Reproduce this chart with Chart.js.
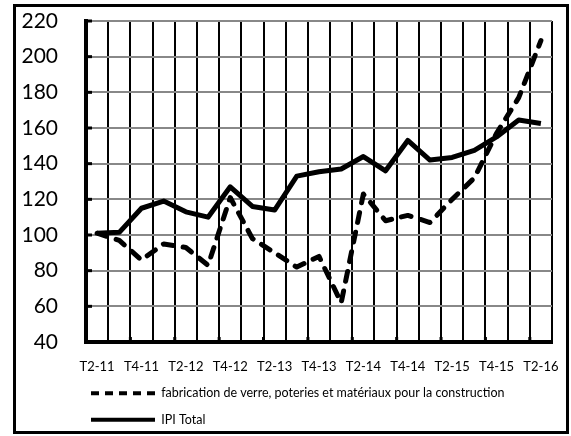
<!DOCTYPE html>
<html>
<head>
<meta charset="utf-8">
<script src="https://cdn.jsdelivr.net/npm/chart.js@4"></script>
<style>
  html, body { margin: 0; padding: 0; background: #fff; }
  #frame {
    position: absolute; left: 13px; top: 4px; width: 556px; height: 430px;
    box-sizing: border-box; border: 3px solid #000;
  }
  #wrap { position: absolute; left: 0; top: 0; width: 571px; height: 436px; }
</style>
</head>
<body>
<div id="frame"></div>
<div id="wrap"><canvas id="myChart"></canvas></div>
<script>
// quarters T2-2011 .. T2-2016
var quarters = ['T2-11', 'T3-11', 'T4-11', 'T1-12', 'T2-12', 'T3-12', 'T4-12',
                'T1-13', 'T2-13', 'T3-13', 'T4-13', 'T1-14', 'T2-14', 'T3-14',
                'T4-14', 'T1-15', 'T2-15', 'T3-15', 'T4-15', 'T1-16', 'T2-16'];

var verreValues = [101, 97, 86, 95, 93, 83, 121, 98, 90, 82, 88, 62, 123,
                   108, 111, 107, 120, 132, 157, 177, 209];

var ipiValues = [101, 101.5, 115, 119, 113, 110, 127, 116, 114, 133, 135.5, 137, 144,
                 136, 153, 142, 143.5, 147.5, 155, 164.5, 162.5];

var verreLabel = 'fabrication de verre, poteries et matériaux pour la construction';
var ipiLabel   = 'IPI Total';

var fontFamily = 'Lato, "Liberation Sans", sans-serif';
var ctx = document.getElementById('myChart');

// little black tick marks on the inside of both axes
var innerTicks = {
    id: 'innerTicks',
    afterDatasetsDraw: function(chart) {
        var x = chart.scales.x;
        var y = chart.scales.y;
        var c = chart.ctx;
        c.save();
        c.strokeStyle = '#000';
        c.lineWidth = 3;
        y.ticks.forEach(function(t) {
            var py = y.getPixelForValue(t.value);
            c.beginPath();
            c.moveTo(y.right, py);
            c.lineTo(y.right + 6, py);
            c.stroke();
        });
        for (var i = 2; i < quarters.length; i += 2) {
            var px = (x.getPixelForValue(i - 1) + x.getPixelForValue(i)) / 2;
            c.beginPath();
            c.moveTo(px, x.top);
            c.lineTo(px, x.top - 5);
            c.stroke();
        }
        c.restore();
    }
};

// legend sits under the plot, not at the canvas edge
var legendShift = {
    id: 'legendShift',
    afterLayout: function(chart) {
        chart.legend.left += 77;
    }
};

var myChart = new Chart(ctx, {
    type: 'line',
    data: {
        labels: quarters,
        datasets: [{
            label: verreLabel,
            data: verreValues,
            borderColor: '#000',
            backgroundColor: '#000',
            borderWidth: 5,
            borderDash: [10, 10],
            borderCapStyle: 'round',
            borderJoinStyle: 'round',
            pointRadius: 0,
            tension: 0
        }, {
            label: ipiLabel,
            data: ipiValues,
            borderColor: '#000',
            backgroundColor: '#000',
            borderWidth: 5,
            borderJoinStyle: 'round',
            pointRadius: 0,
            tension: 0
        }]
    },
    options: {
        responsive: true,
        maintainAspectRatio: false,
        animation: false,
        layout: { padding: { left: 0, right: 19, top: 21, bottom: 0 } },
        plugins: {
            tooltip: { enabled: false },
            legend: {
                position: 'bottom',
                align: 'start',
                labels: {
                    usePointStyle: true,
                    pointStyle: 'line',
                    pointStyleWidth: 64,
                    boxHeight: 12,
                    padding: 14,
                    color: '#000',
                    font: { family: fontFamily, size: 12.5 },
                    generateLabels: function(chart) {
                        var items = Chart.defaults.plugins.legend.labels.generateLabels(chart);
                        items.forEach(function(item) {
                            var ds = chart.data.datasets[item.datasetIndex];
                            item.lineDash = ds.borderDash ? [8, 6] : [];
                            item.lineWidth = 4;
                            item.strokeStyle = '#000';
                            item.lineCap = 'butt';
                        });
                        return items;
                    }
                }
            }
        },
        scales: {
            x: {
                offset: true,
                grid: { offset: true, color: '#000', lineWidth: 2, tickLength: 15, tickColor: 'rgba(0,0,0,0)' },
                border: { color: '#000', width: 4 },
                ticks: {
                    autoSkip: false,
                    maxRotation: 0,
                    padding: 2,
                    color: '#000',
                    font: { family: fontFamily, size: 13 },
                    callback: function(v, i) { return i % 2 === 0 ? quarters[i] : ''; }
                },
                afterFit: function(s) { s.height = 31; }
            },
            y: {
                min: 40,
                max: 220,
                grid: { color: '#888', lineWidth: 2, tickLength: 26, tickColor: 'rgba(0,0,0,0)' },
                border: { color: '#000', width: 4 },
                ticks: {
                    stepSize: 20,
                    padding: 2,
                    color: '#000',
                    font: { family: fontFamily, size: 21 }
                },
                afterFit: function(s) { s.width = 86; }
            }
        }
    },
    plugins: [innerTicks, legendShift]
});
</script>
</body>
</html>
